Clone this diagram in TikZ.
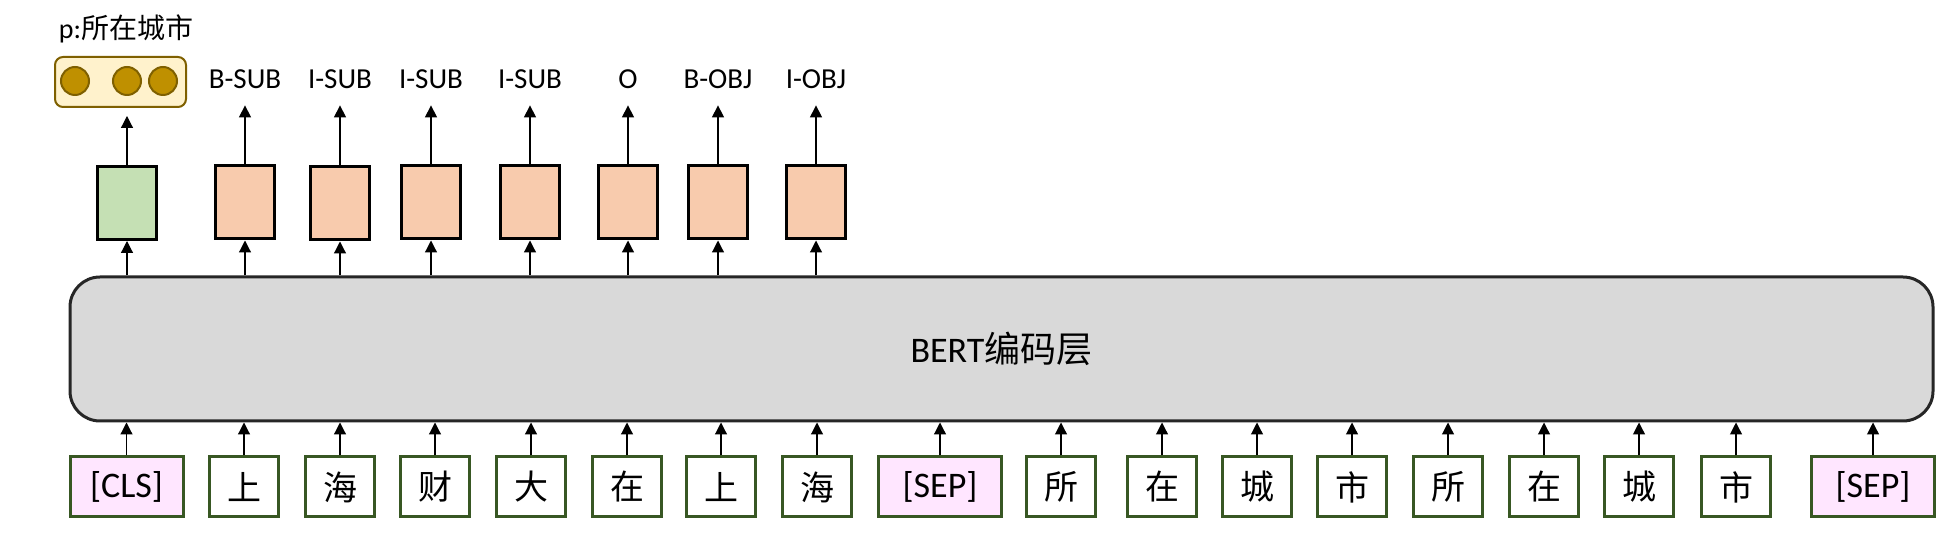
\documentclass[tikz,border=0pt]{standalone}
\usepackage{fontspec}
\setmainfont{Carlito}
\newfontfamily\cjk{Noto Sans CJK SC}
\usetikzlibrary{arrows.meta}
\definecolor{tokborder}{HTML}{385723}
\definecolor{pinkfill}{HTML}{FFE6FF}
\definecolor{greenfill}{HTML}{C5E0B4}
\definecolor{orangefill}{HTML}{F8CBAD}
\definecolor{yelfill}{HTML}{FFF2CC}
\definecolor{goldborder}{HTML}{7F6000}
\definecolor{goldfill}{HTML}{BF9000}
\definecolor{bertfill}{HTML}{D9D9D9}
\definecolor{bertborder}{HTML}{262626}
\tikzset{
  tok/.style={draw=tokborder, line width=1.5pt, fill=white, minimum width=34.5pt, minimum height=30pt, inner sep=0pt, font=\fontsize{17}{20}\cjk},
  spec/.style={tok, fill=pinkfill, font=\fontsize{18}{21}\selectfont},
  outbox/.style={draw=black, line width=1.5pt, fill=orangefill, minimum width=29.5pt, minimum height=36.5pt, inner sep=0pt},
  lab/.style={inner sep=0pt, text height=10pt, text depth=0pt, minimum height=26pt, font=\fontsize{14.5}{17}\selectfont},
  arr/.style={-{Triangle[width=6pt,length=6pt]}, line width=0.6pt, black},
  dot/.style={circle, draw=goldborder, fill=goldfill, line width=1pt, minimum size=14pt, inner sep=0pt}
}
\begin{document}
\begin{tikzpicture}[x=0.5pt, y=-0.5pt]
\useasboundingbox (0,0) rectangle (1937,533);
% BERT layer
\node[draw=bertborder, fill=bertfill, line width=1.5pt, rounded corners=15pt, minimum width=931.5pt, minimum height=72pt, inner sep=0pt, font=\fontsize{18}{21}\selectfont] (bert) at (1001.5,349) {BERT{\cjk 编码层}};
% tokens
\node[spec] (t1) at (126.5,487) [minimum width=56.5pt] {[CLS]};
\node[tok] (t2) at (244,487) {上};
\node[tok] (t3) at (340,487) {海};
\node[tok] (t4) at (435,487) {财};
\node[tok] (t5) at (531,487) {大};
\node[tok] (t6) at (627,487) {在};
\node[tok] (t7) at (721,487) {上};
\node[tok] (t8) at (817,487) {海};
\node[spec] (t9) at (940,487) [minimum width=61.5pt] {[SEP]};
\node[tok] (t10) at (1061,487) {所};
\node[tok] (t11) at (1162,487) {在};
\node[tok] (t12) at (1257,487) {城};
\node[tok] (t13) at (1352,487) {市};
\node[tok] (t14) at (1448,487) {所};
\node[tok] (t15) at (1544,487) {在};
\node[tok] (t16) at (1639,487) {城};
\node[tok] (t17) at (1736,487) {市};
\node[spec] (t18) at (1873,487) [minimum width=61.5pt] {[SEP]};
\foreach \i in {1,...,18} {
  \draw[arr] (t\i.north) -- (t\i.north |- bert.south);
}
% output boxes
\node[outbox, fill=greenfill] (g) at (127,203) {};
\node[outbox] (o1) at (245,202.5) {};
\node[outbox] (o2) at (340,203.5) {};
\node[outbox] (o3) at (431,202.5) {};
\node[outbox] (o4) at (530,202.5) {};
\node[outbox] (o5) at (628,202.5) {};
\node[outbox] (o6) at (718,202.5) {};
\node[outbox] (o7) at (816,202.5) {};
\foreach \n in {g,o1,o2,o3,o4,o5,o6,o7} {
  \draw[arr] (\n.south |- bert.north) -- (\n.south);
}
% labels
\node[lab] (l1) at (245,79) {B-SUB};
\node[lab] (l2) at (340,79) {I-SUB};
\node[lab] (l3) at (431,79) {I-SUB};
\node[lab] (l4) at (530,79) {I-SUB};
\node[lab] (l5) at (628,79) {O};
\node[lab] (l6) at (718,79) {B-OBJ};
\node[lab] (l7) at (816,79) {I-OBJ};
\foreach \i in {1,...,7} {
  \draw[arr] (o\i.north) -- (l\i.south);
}
% predicate box
\node[draw=goldborder, fill=yelfill, line width=1pt, rounded corners=4pt, minimum width=65.5pt, minimum height=25pt, inner sep=0pt] (pbox) at (120.5,82) {};
\node[dot] (c1) at (75,81) {};
\node[dot] (c2) at (127,81) {};
\node[dot] (c3) at (163,81) {};
\draw[arr, shorten >=4pt] (g.north) -- (g.north |- pbox.south);
\node[inner sep=0pt, font=\fontsize{14}{17}\selectfont] (ptext) at (126,29) {p:{\cjk 所在城市}};
\end{tikzpicture}
\end{document}
